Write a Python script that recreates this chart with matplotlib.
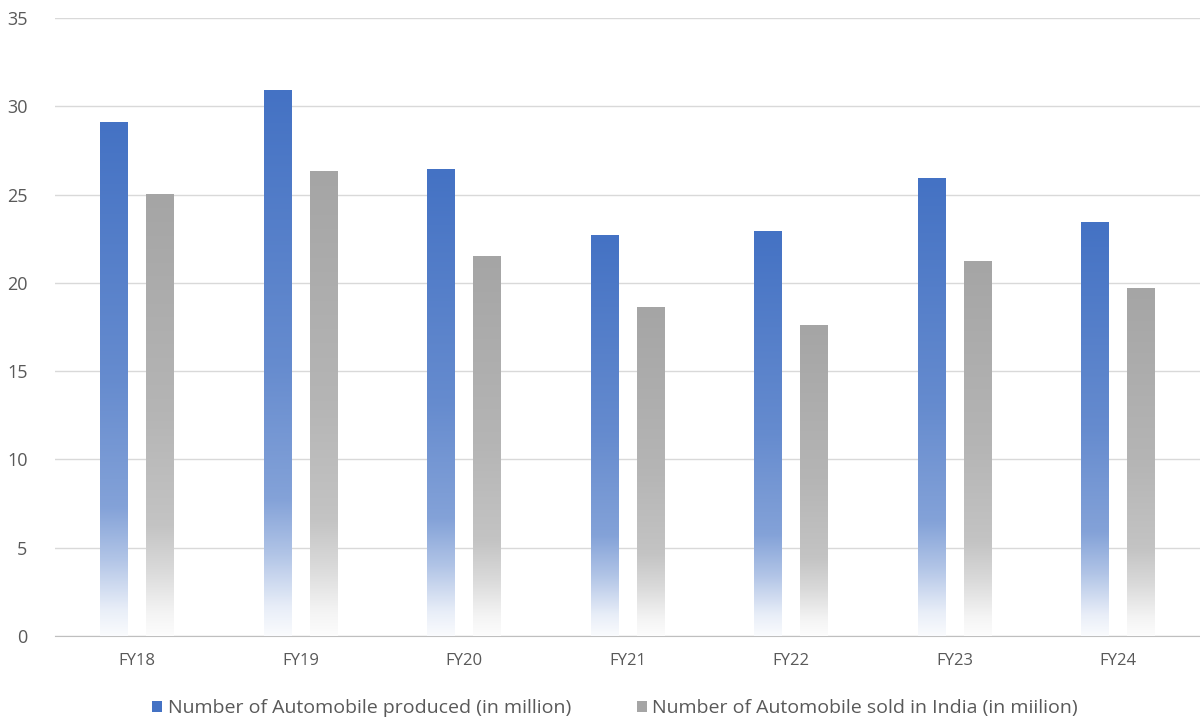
import numpy as np
import matplotlib.pyplot as plt
from matplotlib.colors import to_rgb
from matplotlib.patches import Patch

years = ["FY18", "FY19", "FY20", "FY21", "FY22", "FY23", "FY24"]
produced = [29.1, 30.9, 26.4, 22.7, 22.9, 25.9, 23.4]
sold = [25.0, 26.3, 21.5, 18.6, 17.6, 21.2, 19.7]

plt.rcParams['font.family'] = ['Open Sans', 'DejaVu Sans']

fig = plt.figure(figsize=(12, 7.26), dpi=100)
ax = fig.add_axes([0.046, 0.124, 0.954, 0.851])

x = np.arange(len(years))
w = 0.17


def gradient_bars(bars, color):
    # excel-style fill: solid at the top, fading to white at the base
    base = np.array(to_rgb(color))
    t = np.linspace(0, 1, 256)
    f = np.interp(t, [0, 0.5, 0.75, 0.85, 0.95, 1.0],
                  [1.0, 0.82, 0.66, 0.42, 0.12, 0.03])
    img = (1 - f[:, None]) + f[:, None] * base[None, :]
    img = img[:, None, :]
    for b in bars:
        b.set_facecolor("none")
        b.set_edgecolor("none")
        x0, y0, bw, bh = b.get_x(), b.get_y(), b.get_width(), b.get_height()
        ax.imshow(img, extent=[x0, x0 + bw, y0, y0 + bh], aspect="auto",
                  origin="upper", zorder=3, interpolation="bilinear")


b1 = ax.bar(x - 0.14, produced, w, label="Number of Automobile produced (in million)")
b2 = ax.bar(x + 0.14, sold, w, label="Number of Automobile sold in India (in miilion)")
gradient_bars(b1, "#4472C4")
gradient_bars(b2, "#A5A5A5")

ax.set_xlim(-0.5, len(years) - 0.5)
ax.set_ylim(0, 35)
ax.set_yticks(range(0, 36, 5))
ax.set_xticks(x)
ax.set_xticklabels(years)
ax.tick_params(axis="both", length=0, labelsize=12, colors="#595959")
ax.tick_params(axis="y", labelsize=13, pad=20)
ax.tick_params(axis="x", pad=12)
ax.grid(axis="y", color="#D9D9D9", linewidth=1)
ax.set_axisbelow(True)
for s in ["top", "right", "left"]:
    ax.spines[s].set_visible(False)
ax.spines["bottom"].set_color("#BFBFBF")

handles = [Patch(facecolor="#4472C4"), Patch(facecolor="#A5A5A5")]
leg = fig.legend(handles, [b1.get_label(), b2.get_label()], loc="lower center",
                 bbox_to_anchor=(0.5125, -0.012), ncol=2, frameon=False,
                 fontsize=14, columnspacing=3.4, handlelength=0.5,
                 handleheight=0.5, handletextpad=0.3)
for t in leg.get_texts():
    t.set_color("#595959")

fig.savefig("out.png")
